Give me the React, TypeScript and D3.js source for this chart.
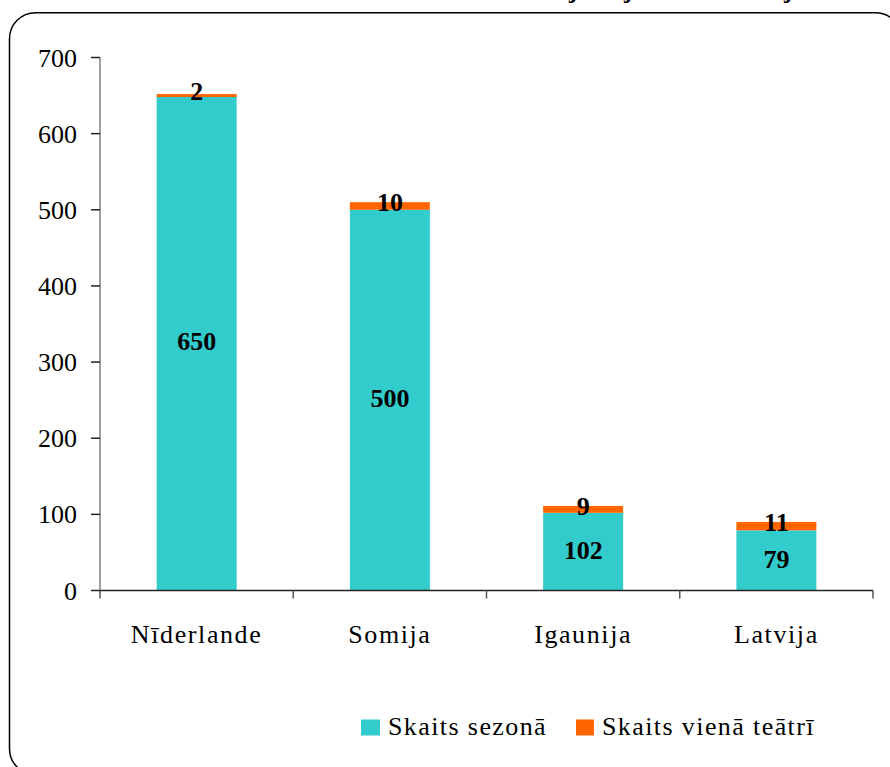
import React from "react";
import * as d3 from "d3";

const categories = ["Nīderlande", "Somija", "Igaunija", "Latvija"];
const seasonValues = [650, 500, 102, 79];
const theatreValues = [2, 10, 9, 11];
const yTicks = [0, 100, 200, 300, 400, 500, 600, 700];
const seriesNames = ["Skaits sezonā", "Skaits vienā teātrī"];
const colors = ["#33CCCC", "#FF6600"];

const W = 890;
const H = 767;
const FONT = "'Liberation Serif', 'Times New Roman', serif";

export default function App() {
  const x = d3.scaleBand<string>().domain(categories).range([100, 873]).paddingInner(0).paddingOuter(0);
  const y = d3.scaleLinear().domain([0, 700]).range([590.5, 57.5]);
  const barW = 80;
  const stacked = categories.map((c, i) => ({
    c,
    s: seasonValues[i],
    t: theatreValues[i],
  }));
  const bounds = [...categories.map((c) => x(c)!), 873];

  return (
    <svg
      width={W}
      height={H}
      style={{ position: "absolute", left: 0, top: 0, display: "block", background: "#fff" }}
      fontFamily={FONT}
    >
      <rect x={9.5} y={12.7} width={892} height={762} rx={26} ry={26} fill="none" stroke="#000" strokeWidth={1.5} />
      {/* cut-off title descenders (title lies above the visible area in the reference) */}
      {[573, 628, 788].map((px, i) => (
        <text key={i} x={px} y={-2} fontSize={24} fontWeight="bold" textAnchor="middle" fill="#000">
          j
        </text>
      ))}

      {/* bars */}
      {stacked.map((d) => {
        const cx = x(d.c)! + x.bandwidth() / 2;
        const y0 = y(0);
        const y1 = y(d.s);
        const y2 = y(d.s + d.t);
        return (
          <g key={d.c}>
            <rect x={cx - barW / 2} y={y1} width={barW} height={y0 - y1} fill={colors[0]} />
            <rect x={cx - barW / 2} y={y2} width={barW} height={Math.max(y1 - y2, 3)} fill={colors[1]} />
            <text x={cx} y={(y0 + y1) / 2 - 2} dy="0.35em" textAnchor="middle" fontSize={26} fontWeight="bold" fill="#000">
              {d.s}
            </text>
            <text x={cx} y={(y1 + y2) / 2 - 4} dy="0.35em" textAnchor="middle" fontSize={26} fontWeight="bold" fill="#000">
              {d.t}
            </text>
          </g>
        );
      })}

      {/* y axis */}
      <line x1={100} x2={100} y1={y(700)} y2={y(0)} stroke="#808080" strokeWidth={1.5} />
      {yTicks.map((t) => (
        <g key={t}>
          <line x1={91} x2={100} y1={y(t)} y2={y(t)} stroke="#222" strokeWidth={1.5} />
          <text x={77} y={y(t)} dy="0.35em" textAnchor="end" fontSize={26} fill="#000">
            {t}
          </text>
        </g>
      ))}

      {/* x axis */}
      <line x1={100} x2={873} y1={y(0)} y2={y(0)} stroke="#222" strokeWidth={1.5} />
      {bounds.map((b, i) => (
        <line key={i} x1={b} x2={b} y1={y(0)} y2={y(0) + 8} stroke="#555" strokeWidth={1.5} />
      ))}
      {categories.map((c) => (
        <text key={c} x={x(c)! + x.bandwidth() / 2} y={643} textAnchor="middle" fontSize={26} letterSpacing={1.6} fill="#000">
          {c}
        </text>
      ))}

      {/* legend */}
      <rect x={361} y={719.5} width={19} height={16} fill={colors[0]} />
      <text x={388} y={735} fontSize={26} letterSpacing={1.4} fill="#000">
        {seriesNames[0]}
      </text>
      <rect x={576} y={719.5} width={18} height={16} fill={colors[1]} />
      <text x={602} y={735} fontSize={26} letterSpacing={1.4} fill="#000">
        {seriesNames[1]}
      </text>
    </svg>
  );
}
